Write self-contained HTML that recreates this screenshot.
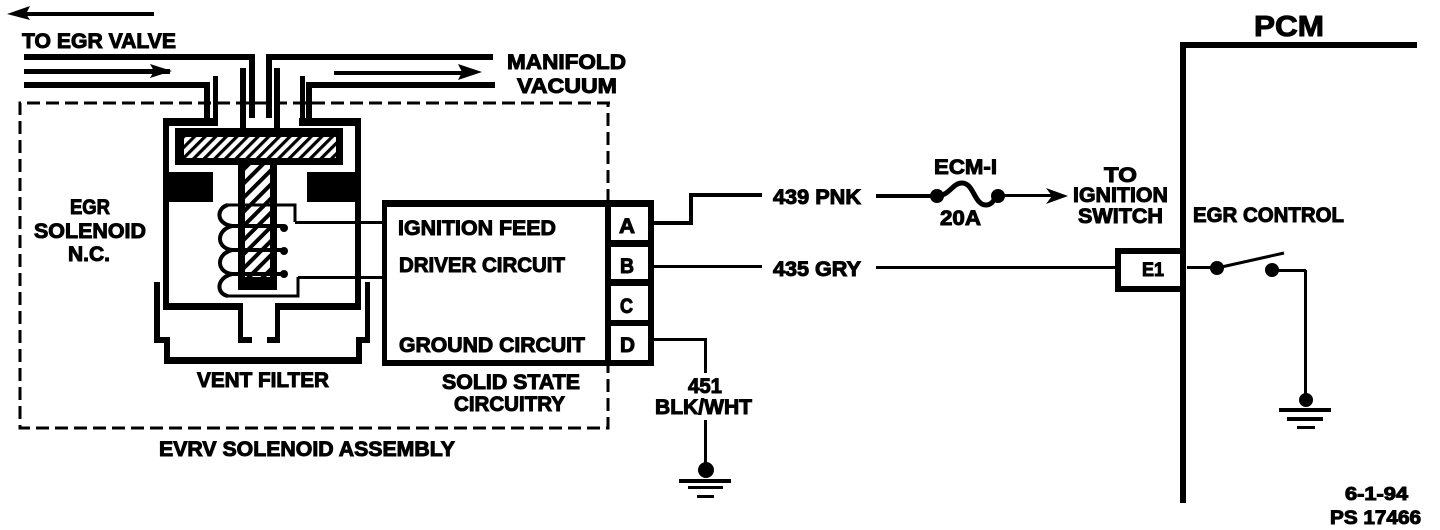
<!DOCTYPE html>
<html><head><meta charset="utf-8"><style>
html,body{margin:0;padding:0;background:#fff;width:1440px;height:530px;overflow:hidden}
svg{display:block}
text{font-family:"Liberation Sans",sans-serif;font-weight:bold;fill:#000;stroke:#000;stroke-width:1}
</style></head><body>
<svg width="1440" height="530" viewBox="0 0 1440 530" xmlns="http://www.w3.org/2000/svg">
<defs>
<pattern id="h" width="7.5" height="7.5" patternUnits="userSpaceOnUse" patternTransform="rotate(45)">
<rect width="7.5" height="7.5" fill="#fff"/><rect width="3.2" height="7.5" fill="#000"/>
</pattern>
<pattern id="s" width="10" height="10" patternUnits="userSpaceOnUse" patternTransform="rotate(45)">
<rect width="10" height="10" fill="#fff"/><rect width="4" height="10" fill="#000"/>
</pattern>
</defs>
<g fill="#000" shape-rendering="crispEdges">
<!-- top arrow -->
<rect x="26" y="12" width="128" height="4"/>
<!-- pipes -->
<rect x="24" y="54" width="231" height="6"/>
<rect x="249" y="54" width="6" height="64"/>
<rect x="266" y="54" width="6" height="64"/>
<rect x="266" y="54" width="227" height="6"/>
<rect x="24" y="69" width="146" height="5"/>
<rect x="24" y="82" width="186" height="6"/>
<rect x="204" y="82" width="6" height="37"/>
<rect x="213" y="76" width="5" height="50"/>
<rect x="240" y="68" width="6" height="60"/>
<rect x="274" y="68" width="6" height="60"/>
<rect x="300" y="76" width="5" height="50"/>
<rect x="306" y="82" width="6" height="37"/>
<rect x="306" y="82" width="189" height="6"/>
<rect x="334" y="71" width="130" height="4"/>
<!-- housing -->
<rect x="163" y="118" width="55" height="8"/>
<rect x="299" y="118" width="62" height="8"/>
<rect x="163" y="118" width="6" height="192"/>
<rect x="355" y="118" width="6" height="192"/>
<rect x="165" y="303" width="78" height="7"/>
<rect x="278" y="303" width="83" height="7"/>
<rect x="163" y="172" width="50" height="30"/>
<rect x="307" y="172" width="54" height="30"/>
<!-- T plunger -->
<rect x="175" y="128" width="168" height="37"/>
<rect x="238" y="165" width="39" height="125"/>
</g>
<rect x="184" y="137" width="152" height="21" fill="url(#h)"/>
<rect x="245" y="165" width="25" height="112" fill="url(#s)"/>
<g fill="#000" shape-rendering="crispEdges">
<!-- spout and filter -->
<rect x="238" y="303" width="5" height="40"/>
<rect x="238" y="337" width="14" height="6"/>
<rect x="275" y="303" width="5" height="40"/>
<rect x="267" y="337" width="13" height="6"/>
<rect x="154" y="282" width="6" height="61"/>
<rect x="154" y="337" width="16" height="6"/>
<rect x="164" y="337" width="6" height="27"/>
<rect x="164" y="357" width="198" height="7"/>
<rect x="356" y="337" width="6" height="27"/>
<rect x="356" y="337" width="14" height="6"/>
<rect x="365" y="282" width="5" height="61"/>
<!-- solid state box -->
<rect x="382" y="200" width="271" height="7"/>
<rect x="382" y="360" width="272" height="6"/>
<rect x="382" y="200" width="5" height="166"/>
<rect x="648" y="200" width="6" height="166"/>
<rect x="605" y="200" width="6" height="166"/>
<rect x="605" y="240" width="45" height="7"/>
<rect x="605" y="279" width="45" height="7"/>
<rect x="605" y="320" width="45" height="6"/>
<!-- wires -->
<rect x="295" y="221" width="90" height="3"/>
<rect x="298" y="276" width="88" height="3"/>
<rect x="653" y="221" width="39" height="4"/>
<rect x="689" y="194" width="4" height="31"/>
<rect x="689" y="193" width="73" height="4"/>
<rect x="876" y="194" width="56" height="4"/>
<rect x="653" y="265" width="109" height="3"/>
<rect x="876" y="266" width="240" height="3"/>
<rect x="653" y="338" width="54" height="3"/>
<rect x="704" y="338" width="3" height="35"/>
<rect x="704" y="420" width="3" height="48"/>
<rect x="1002" y="194" width="60" height="3"/>
<!-- grounds -->
<rect x="679" y="479" width="52" height="4"/>
<rect x="688" y="486" width="35" height="3"/>
<rect x="697" y="495" width="17" height="3"/>
<rect x="1279" y="408" width="52" height="4"/>
<rect x="1287" y="417" width="36" height="4"/>
<rect x="1297" y="426" width="18" height="3"/>
<rect x="1304" y="270" width="3" height="130"/>
<!-- PCM -->
<rect x="1180" y="42" width="237" height="6"/>
<rect x="1180" y="42" width="6" height="461"/>
<rect x="1115" y="248" width="71" height="6"/>
<rect x="1115" y="286" width="71" height="6"/>
<rect x="1115" y="248" width="6" height="44"/>
<rect x="1187" y="266" width="30" height="3"/>
<rect x="1272" y="269" width="34" height="3"/>
</g>
<!-- dashed enclosure -->
<path d="M610 103H20V428H608V103" fill="none" stroke="#000" stroke-width="3" stroke-dasharray="13 6"/>
<!-- coil -->
<g fill="none" stroke="#000" stroke-width="4">
<path d="M228 205H295V222" stroke-width="3"/>
<path d="M298 277V296H228" stroke-width="3"/>
<path d="M228 205C216 208 216 224 232 226H284M232 226C216 230 216 248 232 250H284M232 250C216 254 216 272 232 274H284M232 274C216 278 216 294 228 296"/>
<path d="M936 196C950 196 952 183 962 183C974 183 974 205 986 205C994 205 994 196 1000 196" stroke-width="5"/>
<path d="M1217 268L1284 253" stroke-width="3"/>
</g>
<g fill="#000">
<circle cx="284" cy="228" r="4"/><circle cx="284" cy="251" r="4"/><circle cx="284" cy="274" r="4"/>
<circle cx="937" cy="196" r="7"/><circle cx="998" cy="196" r="7"/>
<circle cx="706" cy="470" r="8"/><circle cx="1306" cy="400" r="7"/>
<circle cx="1217" cy="268" r="7"/><circle cx="1272" cy="270" r="7"/>
<polygon points="7,14 30,6 26,14 30,20"/>
<polygon points="172,71 150,64 154,71 150,78"/>
<polygon points="482,72 458,64 462,72 458,80"/>
<polygon points="1068,196 1046,188 1052,196 1046,204"/>
</g>
<!-- labels -->
<g font-size="21">
<text x="22" y="48" textLength="154" lengthAdjust="spacingAndGlyphs">TO EGR VALVE</text>
<text x="507" y="69" textLength="119" lengthAdjust="spacingAndGlyphs">MANIFOLD</text>
<text x="517" y="93" textLength="100" lengthAdjust="spacingAndGlyphs">VACUUM</text>
<text x="70" y="214" textLength="40" lengthAdjust="spacingAndGlyphs">EGR</text>
<text x="34" y="238" textLength="112" lengthAdjust="spacingAndGlyphs">SOLENOID</text>
<text x="68" y="261" textLength="42" lengthAdjust="spacingAndGlyphs">N.C.</text>
<text x="197" y="387" textLength="132" lengthAdjust="spacingAndGlyphs">VENT FILTER</text>
<text x="398" y="235" textLength="158" lengthAdjust="spacingAndGlyphs">IGNITION FEED</text>
<text x="399" y="272" textLength="166" lengthAdjust="spacingAndGlyphs">DRIVER CIRCUIT</text>
<text x="399" y="352" textLength="186" lengthAdjust="spacingAndGlyphs">GROUND CIRCUIT</text>
<text x="442" y="389" textLength="138" lengthAdjust="spacingAndGlyphs">SOLID STATE</text>
<text x="454" y="411" textLength="111" lengthAdjust="spacingAndGlyphs">CIRCUITRY</text>
<text x="159" y="456" textLength="296" lengthAdjust="spacingAndGlyphs">EVRV SOLENOID ASSEMBLY</text>
<text x="619" y="233" textLength="16" lengthAdjust="spacingAndGlyphs">A</text>
<text x="620" y="273" textLength="14" lengthAdjust="spacingAndGlyphs">B</text>
<text x="620" y="313" textLength="13" lengthAdjust="spacingAndGlyphs">C</text>
<text x="620" y="352" textLength="15" lengthAdjust="spacingAndGlyphs">D</text>
<text x="688" y="393" textLength="34" lengthAdjust="spacingAndGlyphs">451</text>
<text x="655" y="414" textLength="97" lengthAdjust="spacingAndGlyphs">BLK/WHT</text>
<text x="773" y="204" textLength="88" lengthAdjust="spacingAndGlyphs">439 PNK</text>
<text x="773" y="276" textLength="88" lengthAdjust="spacingAndGlyphs">435 GRY</text>
<text x="934" y="174" textLength="63" lengthAdjust="spacingAndGlyphs">ECM-I</text>
<text x="940" y="225" textLength="41" lengthAdjust="spacingAndGlyphs">20A</text>
<text x="1104" y="182" textLength="33" lengthAdjust="spacingAndGlyphs">TO</text>
<text x="1073" y="202" textLength="95" lengthAdjust="spacingAndGlyphs">IGNITION</text>
<text x="1078" y="223" textLength="85" lengthAdjust="spacingAndGlyphs">SWITCH</text>
<text x="1193" y="222" textLength="151" lengthAdjust="spacingAndGlyphs">EGR CONTROL</text>
<text x="1142" y="276" textLength="22" lengthAdjust="spacingAndGlyphs" font-size="19">E1</text>
</g>
<text x="1254" y="36" font-size="29" textLength="70" lengthAdjust="spacingAndGlyphs">PCM</text>
<text x="1345" y="500" font-size="18" textLength="63" lengthAdjust="spacingAndGlyphs">6-1-94</text>
<text x="1330" y="524" font-size="19" textLength="91" lengthAdjust="spacingAndGlyphs">PS 17466</text>
</svg>
</body></html>
